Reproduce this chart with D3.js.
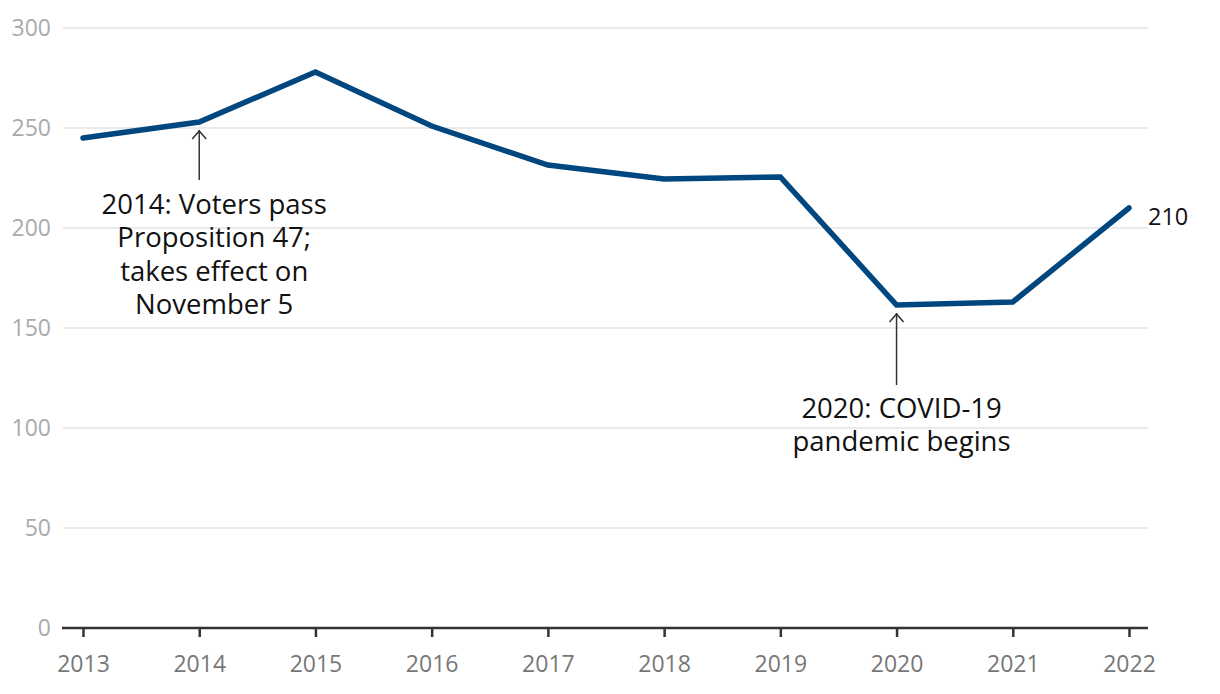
<!DOCTYPE html>
<html><head><meta charset="utf-8">
<script src="https://cdn.jsdelivr.net/npm/d3@7"></script>
<style>
html,body{margin:0;padding:0;background:#fff;}
svg{display:block;font-family:"Open Sans",sans-serif;}
</style></head>
<body>
<svg id="chart" width="1220" height="694"></svg>
<script>
const years = [2013, 2014, 2015, 2016, 2017, 2018, 2019, 2020, 2021, 2022];
const values = [245, 253, 278, 251, 231.5, 224.5, 225.5, 161.5, 163, 210];
const yTicks = [0, 50, 100, 150, 200, 250, 300];
const endLabel = "210";
const annotations = [
  {year: 2014, value: 253, lines: ["2014: Voters pass", "Proposition 47;", "takes effect on", "November 5"], dx: 15, arrowEnd: 180, textTop: 214},
  {year: 2020, value: 161.5, lines: ["2020: COVID-19", "pandemic begins"], dx: 5, arrowEnd: 385, textTop: 418}
];

const svg = d3.select("#chart");
const x = d3.scaleLinear().domain([2013, 2022]).range([83, 1129]);
const y = d3.scaleLinear().domain([0, 300]).range([628, 28]);

// gridlines
svg.append("g").selectAll("line").data(yTicks.filter(d => d > 0)).join("line")
  .attr("x1", 63).attr("x2", 1148)
  .attr("y1", d => y(d)).attr("y2", d => y(d))
  .attr("stroke", "#e3e3e3").attr("stroke-width", 1.5);

// y labels
svg.append("g").selectAll("text").data(yTicks).join("text")
  .attr("x", 51).attr("y", d => y(d)).attr("dy", "0.35em")
  .attr("text-anchor", "end").attr("fill", "#aaaaaa")
  .attr("font-size", 23).text(d => d);

// x axis
const xAxis = d3.axisBottom(x).tickValues(years).tickFormat(d3.format("d")).tickSize(9).tickPadding(19);
const gx = svg.append("g").attr("transform", `translate(0,${y(0)})`).call(xAxis);
gx.select(".domain").attr("d", "M62,0H1148").attr("stroke", "#333").attr("stroke-width", 2.5);
gx.selectAll(".tick line").attr("stroke", "#333").attr("stroke-width", 2.5);
gx.selectAll(".tick text").attr("fill", "#777").attr("font-size", 23).attr("font-family", "Open Sans, sans-serif");

// line
const line = d3.line().x((d, i) => x(years[i])).y(d => y(d));
svg.append("path").datum(values).attr("d", line)
  .attr("fill", "none").attr("stroke", "#00467f").attr("stroke-width", 5.5)
  .attr("stroke-linejoin", "miter").attr("stroke-linecap", "round");

// end label
svg.append("text").attr("x", x(2022) + 19).attr("y", y(values[values.length - 1]) + 17)
  .attr("font-size", 23.5).attr("fill", "#111").text(endLabel);

// annotations
annotations.forEach(a => {
  const ax = x(a.year);
  const ay = y(a.value) + 8;
  svg.append("line").attr("x1", ax).attr("x2", ax).attr("y1", ay).attr("y2", a.arrowEnd)
    .attr("stroke", "#333").attr("stroke-width", 1.5);
  svg.append("path").attr("d", `M${ax - 7},${ay + 9}L${ax},${ay + 1}L${ax + 7},${ay + 9}`)
    .attr("fill", "none").attr("stroke", "#333").attr("stroke-width", 1.5);
  const t = svg.append("text").attr("text-anchor", "middle").attr("font-size", 27.5).attr("fill", "#111");
  a.lines.forEach((l, i) => {
    t.append("tspan").attr("x", ax + a.dx).attr("y", a.textTop + i * 33.3).text(l);
  });
});
</script>
</body></html>
